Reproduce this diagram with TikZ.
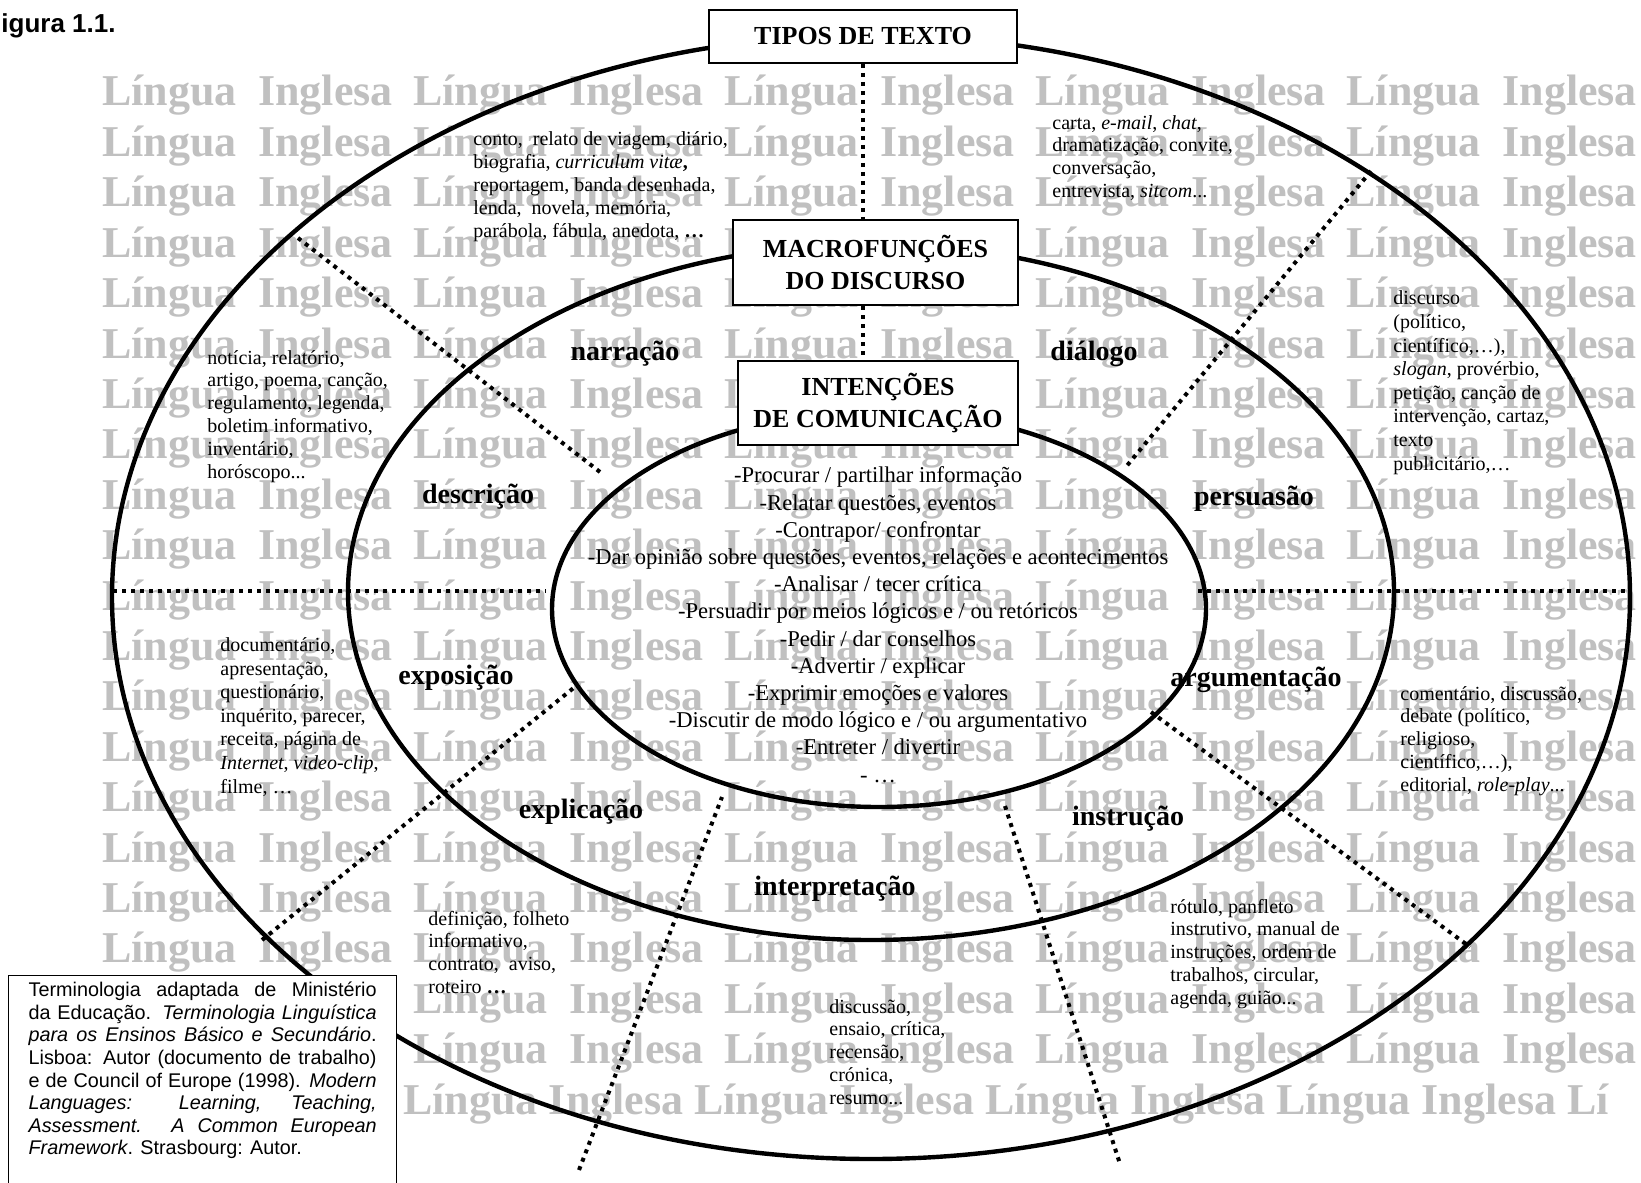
\documentclass[tikz,border=0pt]{standalone}
\usepackage{fontspec}
\setmainfont{Liberation Serif}
\newfontfamily\arialfont{Liberation Sans}
\usetikzlibrary{shapes.geometric}
\definecolor{wmgray}{RGB}{192,192,192}

\tikzset{
  wmword/.style={anchor=base west, inner sep=0pt, text=wmgray, font=\fontsize{22}{22}\selectfont\bfseries},
  ring/.style={draw, ellipse, line width=2.2pt, inner sep=0pt},
  divider/.style={line width=2pt, dash pattern=on 2pt off 2.5pt},
  titlebox/.style={draw, line width=1pt, fill=white, align=center, inner sep=0pt, font=\fontsize{13}{15.7}\selectfont\bfseries},
  genre/.style={anchor=base west, inner sep=0pt, align=left, font=\fontsize{10}{11.4}\selectfont},
  widegenre/.style={genre, font=\fontsize{10}{11.8}\selectfont},
  func/.style={inner sep=0pt, font=\fontsize{14}{16}\selectfont\bfseries},
  aimlist/.style={anchor=base, inner sep=0pt, align=center, font=\fontsize{11.3}{13.6}\selectfont},
  refbox/.style={draw, line width=0.6pt, fill=white, anchor=north west, inner xsep=10pt, inner ysep=3.3pt, text width=174pt, align=justify, font=\arialfont\fontsize{9.9}{11.3}\selectfont}
}

\begin{document}
\begin{tikzpicture}[x=0.5pt, y=-0.5pt]
\useasboundingbox (0,0) rectangle (1641,1182);

\foreach \r in {0,...,19}{
  \foreach \c in {0,...,4}{
    \node[wmword] (lg-\r-\c) at ({102+311*\c},{106+50.4*\r}) {Língua};
    \node[wmword] (ig-\r-\c) at ({258+311*\c},{106+50.4*\r}) {Inglesa};
  }
}
\node[wmword] (wm-last) at (403,1114) {Língua Inglesa Língua Inglesa Língua Inglesa Língua Inglesa Lí};

\node[anchor=base west, inner sep=0pt, font=\arialfont\bfseries\fontsize{13}{13}\selectfont] (figlabel) at (1,33) {igura 1.1.};

\node[ring, minimum width=759pt, minimum height=562pt] (outer) at (871,597) {};
\node[ring, minimum width=523pt, minimum height=348pt] (middle) at (871,592) {};
\node[ring, minimum width=327pt, minimum height=198pt] (inner) at (879,609) {};

\coordinate (ul-a) at (298,238);  \coordinate (ul-b) at (600,472);
\coordinate (ur-a) at (1371,171); \coordinate (ur-b) at (1125,468);
\coordinate (hl-a) at (113,591);  \coordinate (hl-b) at (546,591);
\coordinate (hr-a) at (1198,591); \coordinate (hr-b) at (1629,591);
\coordinate (ll-a) at (262,940);  \coordinate (ll-b) at (576,686);
\coordinate (bl-a) at (579,1170); \coordinate (bl-b) at (722,797);
\coordinate (br-a) at (1005,806); \coordinate (br-b) at (1120,1164);
\coordinate (lr-a) at (1151,712); \coordinate (lr-b) at (1470,947);

\draw[divider] (ul-a)--(ul-b); \draw[divider] (ur-a)--(ur-b);
\draw[divider] (hl-a)--(hl-b); \draw[divider] (hr-a)--(hr-b);
\draw[divider] (ll-a)--(ll-b); \draw[divider] (bl-a)--(bl-b);
\draw[divider] (br-a)--(br-b); \draw[divider] (lr-a)--(lr-b);

\node[titlebox, minimum width=154pt, minimum height=26.5pt] (tipos) at (863,36.5) {TIPOS DE TEXTO};
\node[titlebox, minimum width=142.5pt, minimum height=42.5pt] (macro) at (875.5,262.5) {MACROFUNÇÕES\\DO DISCURSO};
\node[titlebox, minimum width=140pt, minimum height=42pt] (intent) at (878,403) {INTENÇÕES\\DE COMUNICAÇÃO};

\draw[divider] (tipos.south)--(tipos.south |- macro.north);
\draw[divider] (tipos.south |- macro.south)--(tipos.south |- intent.north);

\node[func] (narracao) at (625,354) {narração};
\node[func] (dialogo) at (1094,354) {diálogo};
\node[func] (descricao) at (478,497) {descrição};
\node[func] (persuasao) at (1254,499) {persuasão};
\node[func] (exposicao) at (456,678) {exposição};
\node[func] (argumentacao) at (1256,680) {argumentação};
\node[func] (explicacao) at (581,812) {explicação};
\node[func] (instrucao) at (1128,819) {instrução};
\node[func] (interpretacao) at (835,889) {interpretação};

\node[aimlist] (aims) at (878,782) {-Procurar / partilhar informação\\-Relatar questões, eventos\\-Contrapor/ confrontar\\-Dar opinião sobre questões, eventos, relações e acontecimentos\\-Analisar / tecer crítica\\-Persuadir por meios lógicos e / ou retóricos\\-Pedir / dar conselhos\\-Advertir / explicar\\-Exprimir emoções e valores\\-Discutir de modo lógico e / ou argumentativo\\-Entreter / divertir\\- …};

\node[genre] (g-narr) at (473,237) {conto,\ \ relato de viagem, diário,\\biografia, \textit{curriculum vitæ}\textbf{,}\\reportagem, banda desenhada,\\lenda,\ \ novela, memória,\\parábola, fábula, anedota, \textbf{…}};
\node[genre] (g-dial) at (1052,197.4) {carta, \textit{e-mail}, \textit{chat},\\dramatização, convite,\\conversação,\\entrevista, \textit{sitcom}...};
\node[widegenre] (g-pers) at (1393,470) {discurso\\(político,\\científico,…),\\\textit{slogan}, provérbio,\\petição, canção de\\intervenção, cartaz,\\texto\\publicitário,…};
\node[genre] (g-desc) at (207,478) {notícia, relatório,\\artigo, poema, canção,\\regulamento, legenda,\\boletim informativo,\\inventário,\\horóscopo...};
\node[widegenre] (g-expo) at (220,793) {documentário,\\apresentação,\\questionário,\\inquérito, parecer,\\receita, página de\\\textit{Internet}, \textit{video-clip},\\filme, …};
\node[genre] (g-argu) at (1400,791.2) {comentário, discussão,\\debate (político,\\religioso,\\científico,…),\\editorial, \textit{role-play}...};
\node[genre] (g-expl) at (428,993.4) {definição, folheto\\informativo,\\contrato,\ \ aviso,\\roteiro \textbf{…}};
\node[genre] (g-inte) at (829,1104.2) {discussão,\\ensaio, crítica,\\recensão,\\crónica,\\resumo...};
\node[genre] (g-inst) at (1170,1004.2) {rótulo, panfleto\\instrutivo, manual de\\instruções, ordem de\\trabalhos, circular,\\agenda, guião...};

\node[refbox] (source) at (8,975) {Terminologia adaptada de Ministério\linebreak da Educação. \textit{Terminologia Linguística}\linebreak \textit{para os Ensinos Básico e Secundário}.\linebreak Lisboa: Autor (documento de trabalho)\linebreak e de Council of Europe (1998). \textit{Modern}\linebreak \textit{Languages: Learning, Teaching,}\linebreak \textit{Assessment. A Common European}\linebreak \textit{Framework}. Strasbourg: Autor.\par\vspace{10pt}\hrule height 0pt};
\end{tikzpicture}
\end{document}
